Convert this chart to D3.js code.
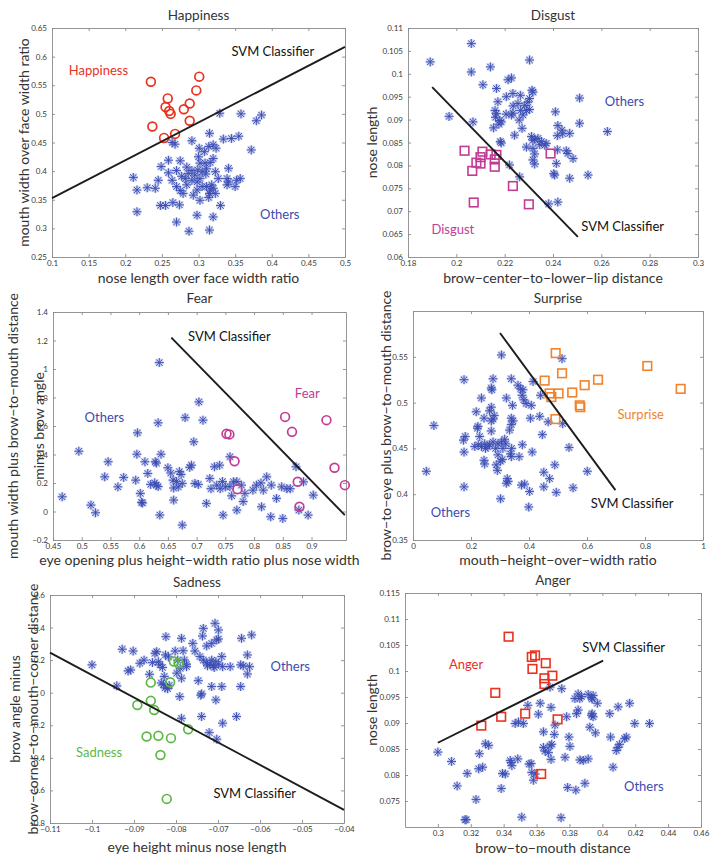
<!DOCTYPE html>
<html><head><meta charset="utf-8">
<script src="https://cdn.jsdelivr.net/npm/d3@7"></script>
<style>body{margin:0;background:#fff}svg{display:block}text{font-family:Lato,"Open Sans",sans-serif}</style>
</head><body><svg id="c" width="716" height="861"></svg>
<script>
// ---------- DATA ----------
const happyTicksX = [0.1,0.15,0.2,0.25,0.3,0.35,0.4,0.45,0.5];
const happyTicksY = [0.25,0.3,0.35,0.4,0.45,0.5,0.55,0.6,0.65];
const happyClass = [[0.235,0.556],[0.301,0.565],[0.297,0.541],[0.258,0.527],[0.255,0.512],[0.26,0.505],[0.262,0.500],[0.28,0.508],[0.288,0.518],[0.288,0.488],[0.237,0.478],[0.253,0.458],[0.268,0.465]];
const happyOthers = [[0.329,0.501],[0.358,0.50],[0.386,0.498],[0.379,0.488],[0.315,0.466],[0.264,0.45],[0.268,0.447],[0.291,0.453],[0.334,0.456],[0.345,0.457],[0.355,0.461],[0.372,0.437],[0.301,0.44],[0.308,0.434],[0.314,0.443],[0.32,0.446],[0.324,0.44],[0.30,0.425],[0.32,0.422],[0.275,0.418],[0.302,0.414],[0.309,0.414],[0.316,0.415],[0.249,0.408],[0.341,0.405],[0.211,0.389],[0.245,0.384],[0.216,0.367],[0.23,0.371],[0.241,0.37],[0.259,0.397],[0.27,0.401],[0.277,0.391],[0.282,0.387],[0.286,0.396],[0.291,0.401],[0.295,0.393],[0.299,0.402],[0.305,0.399],[0.31,0.395],[0.291,0.384],[0.298,0.381],[0.302,0.387],[0.275,0.366],[0.279,0.361],[0.27,0.373],[0.293,0.358],[0.298,0.367],[0.305,0.373],[0.311,0.373],[0.316,0.367],[0.32,0.37],[0.315,0.361],[0.323,0.361],[0.314,0.354],[0.318,0.376],[0.339,0.387],[0.341,0.381],[0.339,0.376],[0.352,0.384],[0.357,0.387],[0.35,0.373],[0.248,0.34],[0.255,0.34],[0.265,0.345],[0.274,0.341],[0.216,0.329],[0.33,0.34],[0.298,0.323],[0.32,0.32],[0.27,0.311],[0.287,0.295],[0.315,0.297],[0.284,0.407],[0.311,0.404],[0.323,0.399],[0.327,0.387],[0.284,0.376],[0.264,0.384],[0.302,0.349],[0.259,0.419]];
const happySvm = [[0.1,0.353],[0.5,0.617]];

const disgustTicksX = [0.18,0.2,0.22,0.24,0.26,0.28,0.3];
const disgustTicksY = [0.06,0.065,0.07,0.075,0.08,0.085,0.09,0.095,0.1,0.105,0.11];
const disgustClass = [[0.2034,0.0832],[0.2108,0.0830],[0.210,0.0818],[0.2083,0.0806],[0.210,0.0804],[0.2066,0.0788],[0.2142,0.0824],[0.2166,0.0823],[0.2159,0.0813],[0.2159,0.0797],[0.2234,0.0755],[0.2072,0.0719],[0.230,0.0715],[0.239,0.0826]];
const disgustOthers = [[0.1892,0.1026],[0.2062,0.1066],[0.2062,0.1004],[0.2141,0.1015],[0.2303,0.1030],[0.211,0.0976],[0.2166,0.0968],[0.2214,0.0987],[0.2228,0.0991],[0.2313,0.0964],[0.2317,0.096],[0.2234,0.0957],[0.2207,0.095],[0.2265,0.0953],[0.2172,0.0939],[0.2255,0.0935],[0.2283,0.0931],[0.2303,0.0946],[0.2296,0.0938],[0.2303,0.0922],[0.197,0.0907],[0.2069,0.0895],[0.216,0.0920],[0.2166,0.0913],[0.2162,0.0905],[0.218,0.0898],[0.2186,0.0895],[0.2176,0.089],[0.2228,0.091],[0.2234,0.0914],[0.2266,0.092],[0.2276,0.091],[0.229,0.092],[0.226,0.0899],[0.2154,0.0882],[0.2272,0.0881],[0.2241,0.0866],[0.2182,0.0852],[0.2186,0.0849],[0.2311,0.0863],[0.2317,0.0855],[0.2324,0.0857],[0.2338,0.0859],[0.2352,0.0852],[0.2366,0.0844],[0.2372,0.0848],[0.229,0.084],[0.2317,0.0837],[0.2324,0.0825],[0.2317,0.0812],[0.2324,0.0803],[0.222,0.0801],[0.2262,0.0775],[0.241,0.0917],[0.242,0.0887],[0.2418,0.0865],[0.2437,0.0877],[0.244,0.0869],[0.2469,0.0870],[0.2418,0.0834],[0.2455,0.0832],[0.2462,0.0826],[0.2483,0.0815],[0.2414,0.0804],[0.2403,0.0782],[0.2407,0.0779],[0.2469,0.0772],[0.251,0.0892],[0.251,0.0947],[0.2545,0.0779],[0.2625,0.0874],[0.2382,0.0716],[0.242,0.072],[0.2345,0.0845],[0.2235,0.0930],[0.2206,0.0912]];
const disgustSvm = [[0.19,0.0971],[0.2503,0.0644]];

const fearTicksX = [0.45,0.5,0.55,0.6,0.65,0.7,0.75,0.8,0.85,0.9];
const fearTicksY = [-0.2,0,0.2,0.4,0.6,0.8,1,1.2,1.4];
const fearClass = [[0.752,0.545],[0.757,0.541],[0.766,0.353],[0.771,0.157],[0.854,0.664],[0.866,0.559],[0.926,0.641],[0.94,0.307],[0.958,0.185],[0.876,0.209],[0.879,0.033]];
const fearOthers = [[0.466,0.103],[0.495,0.423],[0.516,0.045],[0.524,-0.009],[0.546,0.349],[0.54,0.243],[0.563,0.173],[0.573,0.239],[0.597,0.552],[0.596,0.402],[0.594,0.22],[0.602,0.127],[0.604,0.064],[0.606,0.06],[0.61,0.349],[0.615,0.267],[0.628,0.349],[0.63,0.34],[0.635,1.045],[0.633,0.622],[0.638,0.402],[0.627,0.201],[0.63,0.185],[0.633,0.175],[0.636,-0.025],[0.65,0.307],[0.659,0.22],[0.665,0.21],[0.66,0.08],[0.67,0.28],[0.673,0.26],[0.675,0.197],[0.668,0.173],[0.675,-0.095],[0.68,0.659],[0.691,0.325],[0.688,0.31],[0.695,0.489],[0.704,0.769],[0.711,0.641],[0.697,0.197],[0.703,0.19],[0.717,0.057],[0.723,0.232],[0.731,0.314],[0.74,0.325],[0.735,0.185],[0.741,0.16],[0.75,0.173],[0.758,0.175],[0.746,-0.025],[0.758,0.384],[0.761,0.11],[0.764,0.208],[0.77,0.21],[0.77,0.01],[0.778,0.185],[0.784,0.127],[0.781,0.07],[0.816,0.15],[0.822,0.243],[0.83,0.185],[0.829,-0.037],[0.839,0.092],[0.848,0.173],[0.857,0.16],[0.863,0.16],[0.85,-0.049],[0.813,0.033],[0.873,0.314],[0.886,0.208],[0.894,-0.025],[0.903,0.115],[0.804,0.185],[0.798,0.15],[0.62,0.19],[0.655,0.27],[0.66,0.165],[0.725,0.16],[0.745,0.21],[0.812,0.2],[0.878,0.01]];
const fearSvm = [[0.656,1.22],[0.958,-0.025]];

const surpriseTicksX = [0,0.2,0.4,0.6,0.8,1];
const surpriseTicksY = [0.35,0.4,0.45,0.5,0.55];
const surpriseClass = [[0.492,0.554],[0.514,0.532],[0.454,0.524],[0.638,0.525],[0.808,0.54],[0.923,0.515],[0.592,0.519],[0.549,0.511],[0.471,0.51],[0.477,0.506],[0.502,0.51],[0.575,0.497],[0.577,0.495],[0.491,0.482]];
const surpriseOthers = [[0.046,0.425],[0.072,0.475],[0.176,0.525],[0.176,0.408],[0.174,0.459],[0.176,0.446],[0.18,0.463],[0.218,0.49],[0.222,0.472],[0.224,0.474],[0.236,0.505],[0.245,0.483],[0.245,0.437],[0.247,0.433],[0.276,0.526],[0.27,0.516],[0.272,0.514],[0.27,0.495],[0.264,0.491],[0.28,0.486],[0.276,0.482],[0.27,0.48],[0.27,0.469],[0.305,0.552],[0.322,0.505],[0.339,0.526],[0.343,0.497],[0.339,0.483],[0.345,0.48],[0.339,0.476],[0.333,0.47],[0.287,0.432],[0.291,0.426],[0.302,0.436],[0.308,0.438],[0.302,0.395],[0.325,0.417],[0.328,0.414],[0.322,0.412],[0.336,0.444],[0.339,0.441],[0.362,0.519],[0.371,0.515],[0.379,0.514],[0.376,0.508],[0.382,0.503],[0.39,0.499],[0.408,0.497],[0.414,0.523],[0.405,0.483],[0.377,0.454],[0.366,0.441],[0.411,0.446],[0.374,0.41],[0.385,0.411],[0.402,0.403],[0.399,0.386],[0.437,0.485],[0.44,0.508],[0.446,0.465],[0.451,0.424],[0.451,0.408],[0.471,0.417],[0.494,0.402],[0.489,0.432],[0.466,0.479],[0.514,0.548],[0.516,0.477],[0.538,0.451],[0.552,0.407],[0.601,0.425],[0.213,0.452],[0.225,0.454],[0.236,0.452],[0.247,0.455],[0.258,0.452],[0.264,0.454],[0.276,0.457],[0.293,0.455],[0.305,0.457],[0.316,0.46],[0.31,0.45],[0.293,0.443],[0.285,0.45],[0.25,0.45],[0.23,0.463],[0.32,0.455],[0.34,0.45]];
const surpriseSvm = [[0.3,0.576],[0.698,0.4045]];

const sadTicksX = [-0.11,-0.1,-0.09,-0.08,-0.07,-0.06,-0.05,-0.04];
const sadTicksY = [-0.8,-0.6,-0.4,-0.2,0,0.2,0.4,0.6];
const sadClass = [[-0.0805,0.191],[-0.0794,0.181],[-0.086,0.062],[-0.0814,0.064],[-0.086,-0.05],[-0.0892,-0.075],[-0.0852,-0.106],[-0.0771,-0.224],[-0.087,-0.269],[-0.0842,-0.265],[-0.0812,-0.279],[-0.0837,-0.382],[-0.0822,-0.652]];
const sadOthers = [[-0.1,0.171],[-0.0941,0.042],[-0.0928,0.267],[-0.0902,0.256],[-0.0914,0.134],[-0.0908,0.14],[-0.0886,0.181],[-0.0863,0.113],[-0.085,0.242],[-0.0846,0.252],[-0.0856,0.185],[-0.0838,0.171],[-0.0832,0.155],[-0.0824,0.344],[-0.0825,0.232],[-0.0835,0.06],[-0.083,0.05],[-0.0826,0.03],[-0.082,0.025],[-0.0816,0.045],[-0.0828,0.1],[-0.0802,0.256],[-0.0787,0.334],[-0.0783,0.258],[-0.078,0.201],[-0.0775,0.16],[-0.079,0.15],[-0.0787,0.089],[-0.0791,-0.024],[-0.0787,-0.157],[-0.076,0.303],[-0.0755,0.256],[-0.0747,0.074],[-0.0739,-0.007],[-0.0741,-0.015],[-0.0739,-0.146],[-0.0735,0.395],[-0.0737,0.348],[-0.0727,0.287],[-0.0743,0.222],[-0.0735,0.2],[-0.0727,0.185],[-0.0719,0.175],[-0.0711,0.165],[-0.0725,0.165],[-0.0705,0.19],[-0.0715,0.2],[-0.0699,0.175],[-0.0709,0.155],[-0.0715,0.303],[-0.0707,0.426],[-0.0699,0.385],[-0.0703,0.324],[-0.0699,0.33],[-0.0691,0.222],[-0.0689,0.16],[-0.0715,0.038],[-0.0705,-0.044],[-0.0691,0.038],[-0.0721,-0.245],[-0.0703,-0.285],[-0.0689,-0.187],[-0.0656,-0.146],[-0.0671,0.16],[-0.0644,0.334],[-0.0646,0.171],[-0.064,0.165],[-0.0646,0.038],[-0.063,0.232],[-0.063,0.115],[-0.062,0.355],[-0.0625,0.16],[-0.0796,0.2],[-0.0818,0.22],[-0.0842,0.19],[-0.0876,0.2],[-0.0775,0.175],[-0.0798,0.12]];
const sadSvm = [[-0.11,0.246],[-0.04,-0.719]];

const angerTicksX = [0.3,0.32,0.34,0.36,0.38,0.4,0.42,0.44,0.46];
const angerTicksY = [0.075,0.08,0.085,0.09,0.095,0.1,0.105,0.11,0.115];
const angerClass = [[0.343,0.1066],[0.3571,0.1027],[0.3591,0.1030],[0.3575,0.1004],[0.3656,0.1015],[0.3648,0.0986],[0.3648,0.0975],[0.3696,0.0991],[0.3349,0.0958],[0.3385,0.0912],[0.3531,0.0918],[0.3264,0.0895],[0.3728,0.0907],[0.3628,0.0802]];
const angerOthers = [[0.3,0.0844],[0.3083,0.0826],[0.3117,0.0779],[0.3178,0.0803],[0.3165,0.0714],[0.3172,0.0714],[0.3232,0.0753],[0.3252,0.0841],[0.3248,0.0812],[0.3272,0.0815],[0.3289,0.086],[0.3309,0.0857],[0.3385,0.0774],[0.3393,0.0803],[0.341,0.0802],[0.344,0.0828],[0.345,0.0818],[0.3446,0.0824],[0.3486,0.0831],[0.347,0.0899],[0.349,0.0902],[0.352,0.0899],[0.351,0.0719],[0.3547,0.0934],[0.3555,0.0821],[0.3567,0.0822],[0.3571,0.0805],[0.3591,0.0802],[0.3581,0.079],[0.3622,0.0938],[0.3611,0.0917],[0.3642,0.0883],[0.3642,0.0853],[0.3652,0.0846],[0.3682,0.0856],[0.3672,0.0843],[0.3692,0.0859],[0.3688,0.083],[0.3682,0.0969],[0.3688,0.093],[0.3708,0.0878],[0.3712,0.0896],[0.3753,0.0966],[0.3749,0.0718],[0.3773,0.0834],[0.3783,0.0912],[0.3789,0.0776],[0.3797,0.0873],[0.3803,0.0855],[0.3833,0.0947],[0.3853,0.0956],[0.3863,0.0947],[0.3873,0.0951],[0.3843,0.0918],[0.3853,0.0925],[0.3839,0.0771],[0.3864,0.0829],[0.3884,0.0828],[0.3914,0.0831],[0.3894,0.0784],[0.3914,0.0955],[0.3934,0.0949],[0.3938,0.0946],[0.3944,0.0953],[0.3924,0.0892],[0.3934,0.0915],[0.3944,0.0912],[0.3938,0.0918],[0.3958,0.0881],[0.397,0.0938],[0.4045,0.0918],[0.405,0.0873],[0.4065,0.0815],[0.4085,0.0847],[0.4095,0.0853],[0.4105,0.0859],[0.4096,0.0931],[0.4136,0.0870],[0.4146,0.0873],[0.4166,0.0938],[0.4197,0.0899],[0.4287,0.0899]];
const angerSvm = [[0.3,0.0862],[0.4005,0.102]];

// ---------- LAYOUT / STYLE ----------
const BLUE = '#3a4cb0';
const panels = [
 {title:'Happiness', rect:[52,28,345,257], xd:[0.1,0.5], yd:[0.25,0.65], xt:happyTicksX, yt:happyTicksY,
  others:happyOthers, cls:happyClass, shape:'circle', color:'#e8321f', svm:happySvm,
  titleY:20, xlab:'nose length over face width ratio', xlabY:283,
  ylab:[['mouth width over face width ratio',24]],
  texts:[['SVM Classifier',0.345,0.6015,'#111'],['Happiness',0.123,0.568,'#e8321f'],['Others',0.384,0.317,BLUE]]},
 {title:'Disgust', rect:[408,28,698,257], xd:[0.18,0.3], yd:[0.06,0.11], xt:disgustTicksX, yt:disgustTicksY,
  others:disgustOthers, cls:disgustClass, shape:'square', color:'#c23c96', svm:disgustSvm,
  titleY:20, xlab:'brow\u2212center\u2212to\u2212lower\u2212lip distance', xlabY:283,
  ylab:[['nose length',372]],
  texts:[['Others',0.2614,0.093,BLUE],['SVM Classifier',0.2517,0.0657,'#111'],['Disgust',0.1897,0.0651,'#c23c96']]},
 {title:'Fear', rect:[53,312,346,540], xd:[0.45,0.96], yd:[-0.2,1.4], xt:fearTicksX, yt:fearTicksY,
  others:fearOthers, cls:fearClass, shape:'circle', color:'#c23c96', svm:fearSvm,
  titleY:303, xlab:'eye opening plus height\u2212width ratio plus nose width', xlabY:565,
  ylab:[['mouth width plus brow\u2212to\u2212mouth distance',13],['minus brow angle',39]],
  texts:[['SVM Classifier',0.685,1.194,'#111'],['Fear',0.871,0.793,'#c23c96'],['Others',0.505,0.629,BLUE]]},
 {title:'Surprise', rect:[413,311,703,540], xd:[0,1], yd:[0.35,0.6], xt:surpriseTicksX, yt:surpriseTicksY,
  others:surpriseOthers, cls:surpriseClass, shape:'square', color:'#f0832b', svm:surpriseSvm,
  titleY:303, xlab:'mouth\u2212height\u2212over\u2212width ratio', xlabY:565,
  ylab:[['brow\u2212to\u2212eye plus brow\u2212to\u2212mouth distance',386]],
  texts:[['Surprise',0.705,0.4816,'#f0832b'],['SVM Classifier',0.613,0.3853,'#111'],['Others',0.061,0.3755,BLUE]]},
 {title:'Sadness', rect:[50,595,344,823], xd:[-0.11,-0.04], yd:[-0.8,0.6], xt:sadTicksX, yt:sadTicksY,
  others:sadOthers, cls:sadClass, shape:'circle', color:'#5db845', svm:sadSvm,
  titleY:587, xlab:'eye height minus nose length', xlabY:852,
  ylab:[['brow angle minus',15],['brow\u2212corner\u2212to\u2212mouth\u2212corner distance',33]],
  texts:[['Others',-0.0575,0.136,BLUE],['Sadness',-0.1038,-0.392,'#5db845'],['SVM Classifier',-0.0711,-0.647,'#111']]},
 {title:'Anger', rect:[405,593,701,827], xd:[0.28,0.46], yd:[0.07,0.115], xt:angerTicksX, yt:angerTicksY,
  others:angerOthers, cls:angerClass, shape:'square', color:'#e8321f', svm:angerSvm,
  titleY:585, xlab:'brow\u2212to\u2212mouth distance', xlabY:853,
  ylab:[['nose length',372]],
  texts:[['SVM Classifier',0.3878,0.1036,'#111'],['Anger',0.3067,0.1004,'#e8321f'],['Others',0.4132,0.0769,BLUE]]}
];

const svg = d3.select('#c');
const fmt = v => String(+v.toFixed(4)).replace('-', '\u2212');
const starPath = 'M-4.5,0H4.5M0,-4.5V4.5M-3.2,-3.2L3.2,3.2M-3.2,3.2L3.2,-3.2';

panels.forEach(p => {
  const [x0,y0,x1,y1] = p.rect;
  const x = d3.scaleLinear().domain(p.xd).range([x0,x1]);
  const y = d3.scaleLinear().domain(p.yd).range([y1,y0]);
  const g = svg.append('g');

  const styleAxis = (sel, labels) => {
    sel.select('.domain').attr('stroke','#8a8a8a').attr('stroke-width',0.9);
    sel.selectAll('.tick line').attr('stroke','#8a8a8a').attr('stroke-width',0.9);
    sel.selectAll('.tick text').attr('fill','#3a3a3a').style('font-size','8px').style('font-family','Lato, sans-serif');
    if(!labels) sel.selectAll('.tick text').remove();
  };
  g.append('g').attr('transform',`translate(0,${y1})`)
    .call(d3.axisBottom(x).tickValues(p.xt).tickFormat(fmt).tickSizeInner(-3).tickSizeOuter(0).tickPadding(3))
    .call(s=>styleAxis(s,true));
  g.append('g').attr('transform',`translate(0,${y0})`)
    .call(d3.axisTop(x).tickValues(p.xt).tickSizeInner(-3).tickSizeOuter(0))
    .call(s=>styleAxis(s,false));
  g.append('g').attr('transform',`translate(${x0},0)`)
    .call(d3.axisLeft(y).tickValues(p.yt).tickFormat(fmt).tickSizeInner(-3).tickSizeOuter(0).tickPadding(5))
    .call(s=>styleAxis(s,true));
  g.append('g').attr('transform',`translate(${x1},0)`)
    .call(d3.axisRight(y).tickValues(p.yt).tickSizeInner(-3).tickSizeOuter(0))
    .call(s=>styleAxis(s,false));

  const clipId = 'clip'+p.title;
  svg.append('clipPath').attr('id',clipId).append('rect').attr('x',x0-10).attr('y',y0-10).attr('width',x1-x0+20).attr('height',y1-y0+20);
  const m = g.append('g').attr('clip-path',`url(#${clipId})`);

  m.selectAll('path.halo').data(p.others).join('path').attr('class','halo')
    .attr('d',starPath).attr('transform',d=>`translate(${x(d[0])},${y(d[1])})`)
    .attr('stroke','#a9b3e8').attr('stroke-width',2.6).attr('fill','none').attr('stroke-opacity',0.65);
  m.selectAll('path.star').data(p.others).join('path').attr('class','star')
    .attr('d',starPath).attr('transform',d=>`translate(${x(d[0])},${y(d[1])})`)
    .attr('stroke',BLUE).attr('stroke-width',0.9).attr('fill','none');

  if(p.shape==='circle'){
    m.selectAll('circle.cls').data(p.cls).join('circle').attr('class','cls')
      .attr('cx',d=>x(d[0])).attr('cy',d=>y(d[1])).attr('r',4.4)
      .attr('fill','none').attr('stroke',p.color).attr('stroke-width',1.7);
  } else {
    m.selectAll('rect.cls').data(p.cls).join('rect').attr('class','cls')
      .attr('x',d=>x(d[0])-4.3).attr('y',d=>y(d[1])-4.3).attr('width',8.6).attr('height',8.6)
      .attr('fill','none').attr('stroke',p.color).attr('stroke-width',1.6);
  }

  g.append('path').datum(p.svm).attr('d',d3.line().x(d=>x(d[0])).y(d=>y(d[1])))
    .attr('stroke','#1c1c1c').attr('stroke-width',1.9).attr('fill','none');

  p.texts.forEach(t=>{
    g.append('text').attr('x',x(t[1])).attr('y',y(t[2])).text(t[0])
      .attr('fill',t[3]).style('font-size','13px');
  });

  g.append('text').attr('x',(x0+x1)/2).attr('y',p.titleY).attr('text-anchor','middle')
    .text(p.title).attr('fill','#333').style('font-size','13.5px');
  g.append('text').attr('x',(x0+x1)/2).attr('y',p.xlabY).attr('text-anchor','middle')
    .text(p.xlab).attr('fill','#333').style('font-size','14px');
  p.ylab.forEach(([txt,px])=>{
    g.append('text').attr('transform',`translate(${px},${(y0+y1)/2}) rotate(-90)`)
      .attr('text-anchor','middle').attr('dy','0.35em').text(txt).attr('fill','#333').style('font-size','14px');
  });
});
</script></body></html>
